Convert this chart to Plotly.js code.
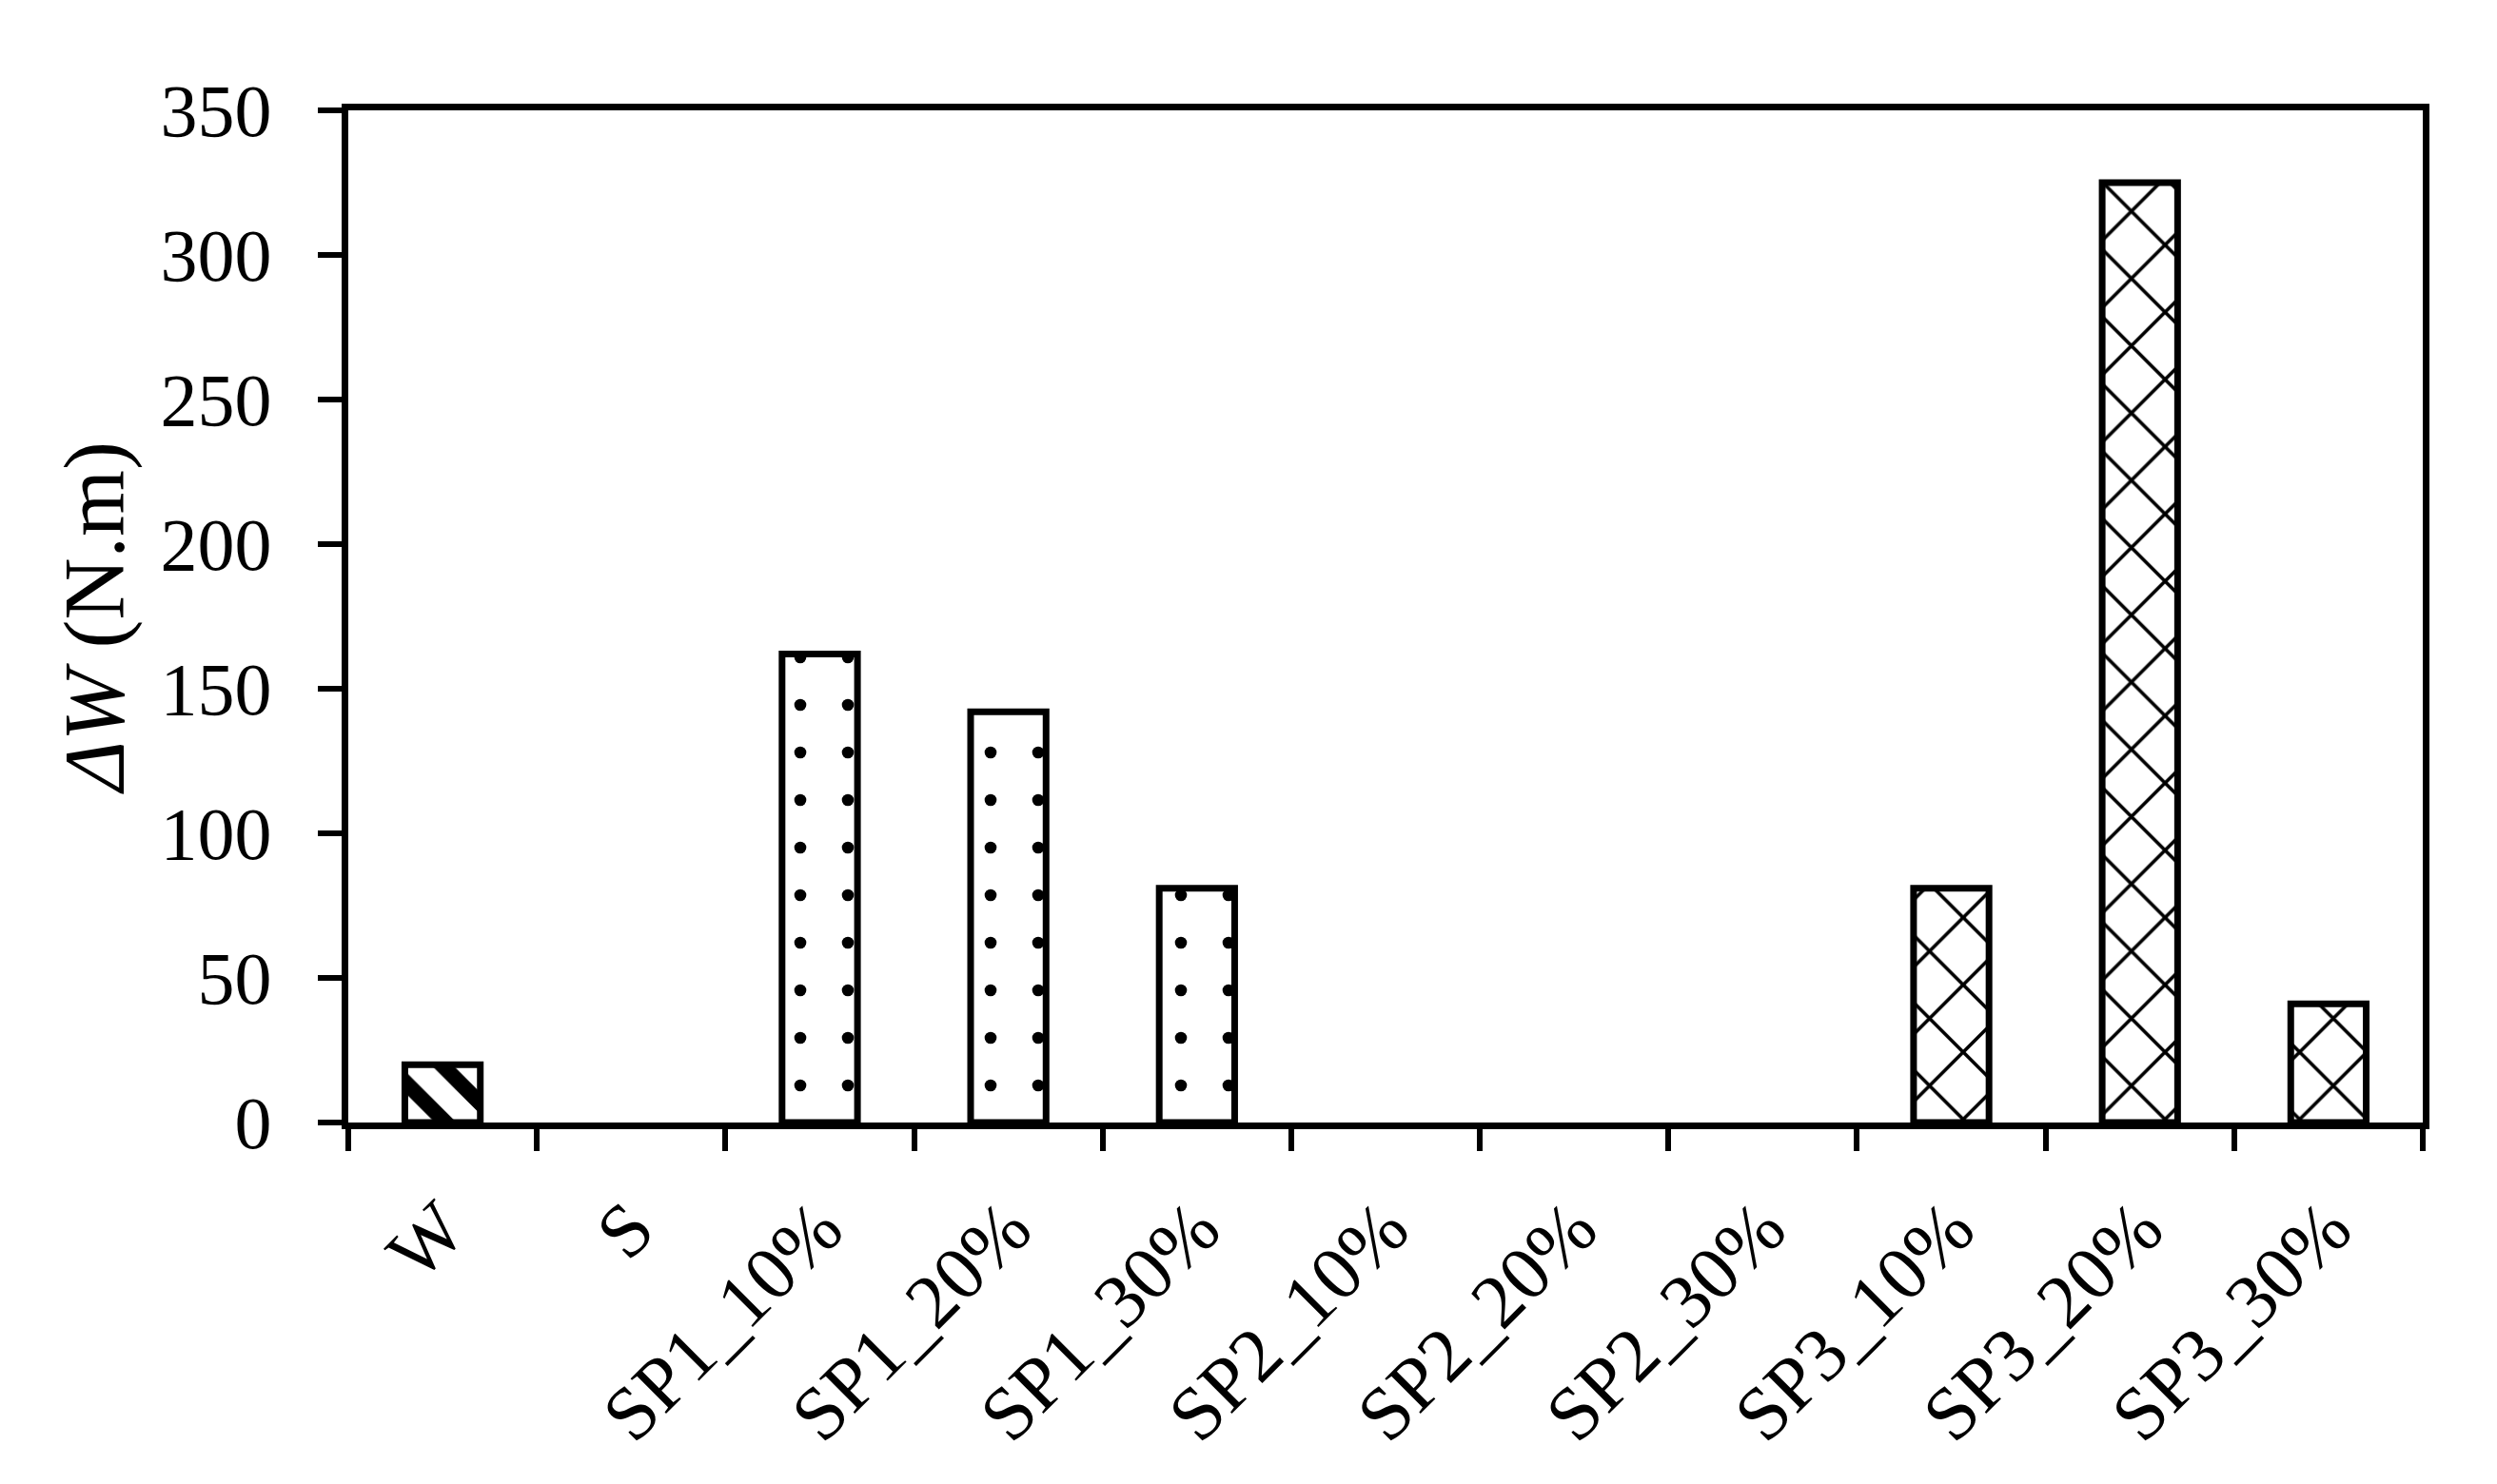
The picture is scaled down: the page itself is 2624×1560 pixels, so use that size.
<!DOCTYPE html>
<html>
<head>
<meta charset="utf-8">
<script src="https://cdn.plot.ly/plotly-3.0.1.min.js"></script>
<style>
  body { margin: 0; background: #ffffff; }
  #myDiv { width: 2624px; height: 1560px; }
</style>
</head>
<body>
<div id="myDiv"></div>
<script>
// categories and values
var categories = ['W', 'S', 'SP1_10%', 'SP1_20%', 'SP1_30%', 'SP2_10%', 'SP2_20%', 'SP2_30%', 'SP3_10%', 'SP3_20%', 'SP3_30%'];
var deltaW = [20, 0, 162, 142, 81, 0, 0, 0, 81, 325, 41];
var yTicks = [0, 50, 100, 150, 200, 250, 300, 350];

// one hatch per group: W, S, SP1, SP2, SP3
function hatchFor(name) {
    if (name == 'W') return {shape: '\\', size: 40, solidity: 0.4};
    if (name.indexOf('SP1') == 0) return {shape: '.', size: 50, solidity: 0.05};
    if (name.indexOf('SP3') == 0) return {shape: 'x', size: 50, solidity: 0.14};
    return {shape: '', size: 10, solidity: 0.3};
}

var shapes = [], sizes = [], solids = [], outline = [];
for (var i = 0; i < categories.length; i++) {
    var h = hatchFor(categories[i]);
    shapes.push(h.shape);
    sizes.push(h.size);
    solids.push(h.solidity);
    // zero bars get no outline, like the original
    outline.push(deltaW[i] == 0 ? 0 : 7);
}

var data = [{
    type: 'bar',
    x: categories,
    y: deltaW,
    marker: {
        color: '#ffffff',
        line: {color: '#000000', width: outline},
        pattern: {
            shape: shapes,
            size: sizes,
            solidity: solids,
            fgcolor: '#000000',
            bgcolor: '#ffffff',
            fgopacity: 1,
            fillmode: 'replace'
        }
    },
    hoverinfo: 'x+y'
}];

var serif = 'Liberation Serif, Times New Roman, serif';

var layout = {
    width: 2624,
    height: 1560,
    margin: {l: 366, r: 78, t: 116, b: 380},
    paper_bgcolor: '#ffffff',
    plot_bgcolor: '#ffffff',
    showlegend: false,
    bargap: 0.6,
    font: {family: serif, color: '#000000', size: 76},
    xaxis: {
        type: 'category',
        tickson: 'boundaries',
        ticks: 'outside',
        ticklen: 23,
        tickwidth: 6,
        tickcolor: '#000000',
        showline: true,
        linewidth: 7,
        linecolor: '#000000',
        mirror: true,
        showgrid: false,
        tickangle: -45,
        ticklabelstandoff: 25,
        tickfont: {family: serif, size: 80, color: '#000000'}
    },
    yaxis: {
        range: [0, 350],
        tickvals: yTicks,
        ticks: 'outside',
        ticklen: 25,
        tickwidth: 6,
        tickcolor: '#000000',
        showline: true,
        linewidth: 7,
        linecolor: '#000000',
        mirror: true,
        showgrid: false,
        zeroline: false,
        ticklabelstandoff: 33,
        tickfont: {family: serif, size: 78, color: '#000000'},
        title: {text: '<i>\u0394W</i> (N.m)', standoff: 10, font: {family: serif, size: 90, color: '#000000'}}
    }
};

Plotly.newPlot('myDiv', data, layout, {displaylogo: false, displayModeBar: false, staticPlot: true});
</script>
</body>
</html>
